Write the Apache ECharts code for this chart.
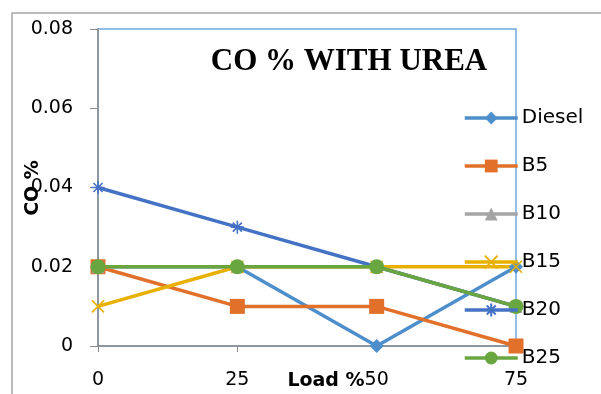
<!DOCTYPE html>
<html>
<head>
<meta charset="utf-8">
<script src="https://cdn.jsdelivr.net/npm/echarts@6/dist/echarts.min.js"></script>
<style>html,body{margin:0;padding:0;background:#fff}#c{width:601px;height:394px}</style>
</head>
<body>
<div id="c"></div>
<script>
// Engine load (%) on the x axis
const loads = [0, 25, 50, 75];
// CO emission (%) per fuel blend with urea
const diesel = [0.02, 0.02, 0.00, 0.02];
const b5     = [0.02, 0.01, 0.01, 0.00];
const b10    = [0.02, 0.02, 0.02, 0.01];
const b15    = [0.01, 0.02, 0.02, 0.02];
const b20    = [0.04, 0.03, 0.02, 0.01];
const b25    = [0.02, 0.02, 0.02, 0.01];
const yTicks = [0, 0.02, 0.04, 0.06, 0.08];

const FONT = '"DejaVu Sans", "Liberation Sans", sans-serif';
const pair = arr => loads.map((x, i) => [x, arr[i]]);

function line(name, data, color, symbol, size, stroke) {
  return {
    name, type: 'line', data: pair(data),
    symbol, symbolSize: size,
    lineStyle: { color, width: 3.5 },
    itemStyle: stroke ? { color, borderColor: color, borderWidth: 1.6 } : { color },
    emphasis: { disabled: true },
    animation: false
  };
}

const chart = echarts.init(document.getElementById('c'));
chart.setOption({
  animation: false,
  grid: { left: 98, right: 85, top: 29, bottom: 48, show: true, borderColor: '#6FA8DC', borderWidth: 1.5 },
  xAxis: {
    type: 'value', min: 0, max: 75, interval: 25,
    axisLine: { show: true, lineStyle: { color: '#8c8c8c', width: 1.5 } },
    axisTick: { show: true, length: 6, lineStyle: { color: '#8c8c8c' } },
    splitLine: { show: false },
    axisLabel: { fontFamily: FONT, fontSize: 19, color: '#000', margin: 25,
      formatter: v => loads.includes(v) ? String(v) : '' }
  },
  yAxis: {
    type: 'value', min: yTicks[0], max: yTicks[yTicks.length - 1], interval: 0.02,
    axisLine: { show: true, lineStyle: { color: '#8c8c8c', width: 1.5 } },
    axisTick: { show: true, length: 8, lineStyle: { color: '#8c8c8c' } },
    splitLine: { show: false },
    axisLabel: { fontFamily: FONT, fontSize: 19, color: '#000', margin: 25,
      formatter: v => v === 0 ? '0' : v.toFixed(2) }
  },
  legend: {
    orient: 'vertical', left: 463, top: 108, padding: 0, itemGap: 28,
    itemWidth: 53, itemHeight: 16,
    lineStyle: { width: 3.5 },
    textStyle: { fontFamily: FONT, fontSize: 20, lineHeight: 20, color: '#000', padding: [0, 0, 0, -1] },
    selectedMode: false
  },
  graphic: [
    { type: 'polyline', shape: { points: [[12, 394], [12, 13], [601, 13]] },
      style: { stroke: '#a6a6a6', lineWidth: 1.5, fill: null }, silent: true },
    { type: 'text', x: 349, y: 62, style: { text: 'CO % WITH UREA', font: 'bold 31px "Liberation Serif", "Times New Roman", serif',
      fill: '#000', align: 'center', verticalAlign: 'middle' } },
    { type: 'text', x: 33, y: 188, rotation: Math.PI / 2, style: { text: 'CO %', font: 'bold 19px ' + FONT,
      fill: '#000', align: 'center', verticalAlign: 'middle' } },
    { type: 'text', x: 326, y: 381, style: { text: 'Load %', font: 'bold 19px ' + FONT,
      fill: '#000', align: 'center', verticalAlign: 'middle' } }
  ],
  series: [
    line('Diesel', diesel, '#4E8FCB', 'diamond', 14),
    line('B5', b5, '#E0702A', 'rect', 15),
    line('B10', b10, '#A5A5A5', 'triangle', 13),
    line('B15', b15, '#E8B000', 'path://M0,0L10,10M10,0L0,10', 12, true),
    line('B20', b20, '#4472C4', 'path://M0,5L10,5M5,0L5,10M1.5,1.5L8.5,8.5M8.5,1.5L1.5,8.5', 13, true),
    line('B25', b25, '#6AA640', 'circle', 15)
  ]
});
</script>
</body>
</html>
